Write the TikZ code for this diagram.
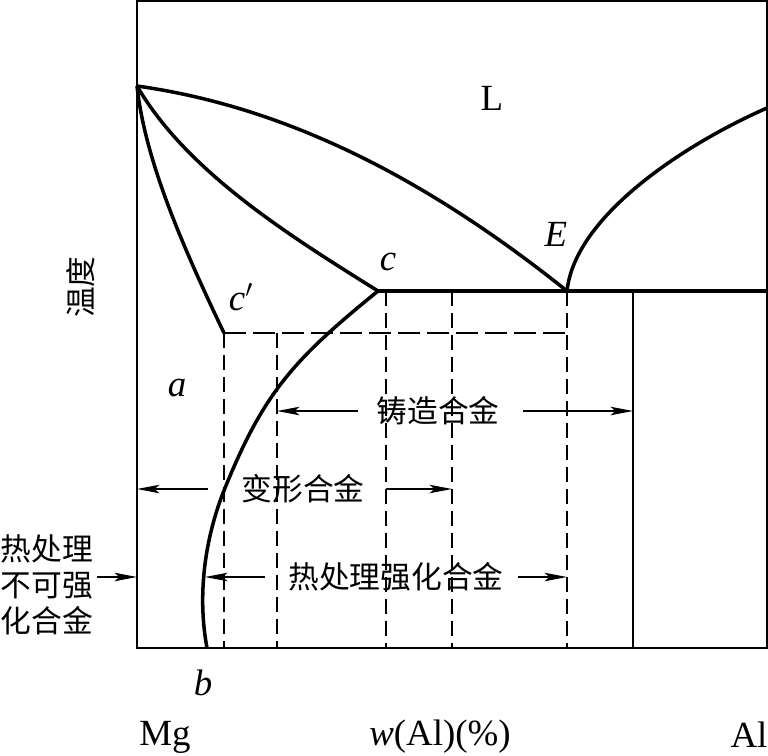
\documentclass[tikz,border=0pt]{standalone}
\usepackage{fontspec}
\setmainfont{Liberation Serif}
\newfontfamily\cjk{Noto Sans CJK SC}
\usetikzlibrary{arrows.meta,calc,positioning}

\tikzset{
  phase/.style={line width=2pt, line join=round},
  frame/.style={line width=1pt},
  guide/.style={line width=0.9pt, dash pattern=on 0.3cm off 0.14cm},
  guideh/.style={line width=0.9pt, dash pattern=on 0.44cm off 0.14cm},
  arr/.style={line width=0.8pt, -{Stealth[length=0.45cm,width=0.17cm,inset=0.1cm]}},
  zh/.style={font=\cjk\fontsize{17.5}{21}\selectfont, inner sep=1pt},
  lbl/.style={font=\fontsize{21}{24}\selectfont, inner sep=1pt},
}

\begin{document}
\begin{tikzpicture}[x=0.02cm,y=-0.02cm]
  \useasboundingbox (0,0) rectangle (768,755);
  %Points
  \coordinate (m) at (137,86);
  \coordinate (cp) at (224,333);
  \coordinate (c) at (378,291);
  \coordinate (e) at (567,291);
  \coordinate (s) at (223,493);
  \coordinate (b) at (207,648);
  \coordinate (r) at (767,291);
  \coordinate (al) at (767,108);
  %Frame
  \draw[frame] (137,1) rectangle (767,648);
  %Guides
  \draw[guideh] (cp) -- (e |- cp);
  \draw[guide] (cp) -- (cp |- b);
  \draw[guide] (277,333) -- (277,648);
  \draw[guide] (386,291) -- (386,648);
  \draw[guide] (452,291) -- (452,648);
  \draw[guide] (e) -- (e |- b);
  \draw[frame] (633,291) -- (633,648);
  %Phase lines
  \draw[phase] (m) .. controls (287,107) and (427,179) .. (e);
  \draw[phase] (m) .. controls (187,172) and (290,236) .. (c);
  \draw[phase] (m) .. controls (145,160) and (182,245) .. (cp);
  \draw[phase] (c) .. controls (293,360) and (263,393) .. (s)
                   .. controls (203,545) and (198,600) .. (b);
  \draw[phase] (e) .. controls (575,215) and (687,143) .. (al);
  \draw[phase] (c) -- (r);

  %Labels
  \node[lbl] (liq) at (492,98) {L};
  \node[lbl] (eut) at (556,234) {\textit{E}};
  \node[lbl] (cc) at (388,262) {\textit{c}};
  \node[lbl] (ccp) at (241,297) {\textit{c}$'$};
  \node[lbl] (aa) at (177,388) {\textit{a}};
  \node[lbl] (bb) at (203,683) {\textit{b}};
  \node[lbl] (mg) at (165,737) {Mg};
  \node[lbl] (wal) at (440,737) {\textit{w}(Al)(\%)};
  \node[lbl] (alum) at (749,735) {Al};
  \node[zh, rotate=90] (temp) at (81,287) {温度};

  %Ranges
  \node[zh] (cast) at (438,411) {铸造合金};
  \coordinate (castA) at (358,411);
  \coordinate (castL) at (277,411);
  \coordinate (castB) at (523,411);
  \coordinate (castR) at (633,411);
  \draw[arr] (castA) -- (castL);
  \draw[arr] (castB) -- (castR);

  \node[zh] (wrought) at (303,489) {变形合金};
  \coordinate (wrA) at (208,489);
  \coordinate (wrL) at (137,489);
  \coordinate (wrB) at (386,489);
  \coordinate (wrR) at (452,489);
  \draw[arr] (wrA) -- (wrL);
  \draw[arr] (wrB) -- (wrR);

  \node[zh] (heat) at (396,577) {热处理强化合金};
  \coordinate (heatA) at (265,577);
  \coordinate (heatL) at (205,577);
  \coordinate (heatB) at (518,577);
  \coordinate (heatR) at (567,577);
  \draw[arr] (heatA) -- (heatL);
  \draw[arr] (heatB) -- (heatR);

  \node[zh, align=left, font=\cjk\fontsize{17.5}{20.5}\selectfont] (nonheat) at (47,585) {热处理\\不可强\\化合金};
  \coordinate (nhA) at (97,577);
  \coordinate (nhR) at (137,577);
  \draw[arr] (nhA) -- (nhR);
\end{tikzpicture}
\end{document}
